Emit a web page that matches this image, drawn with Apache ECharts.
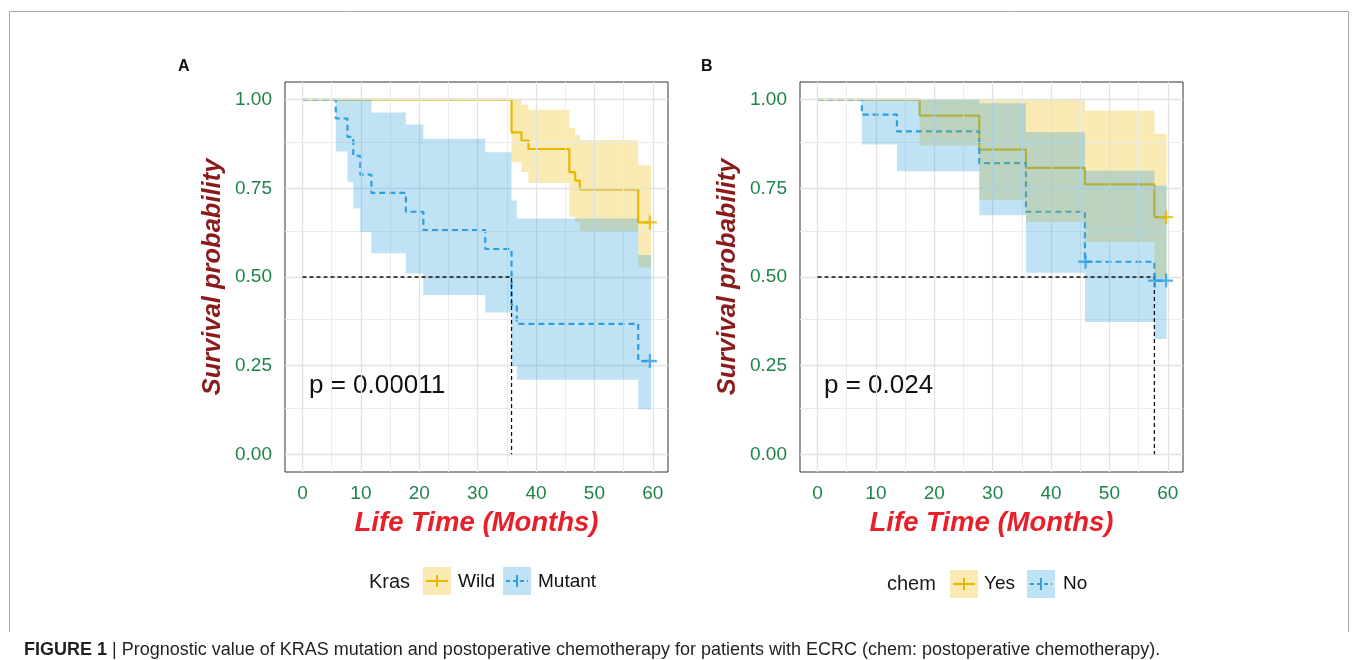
<!DOCTYPE html>
<html><head><meta charset="utf-8">
<script src="https://cdn.jsdelivr.net/npm/echarts@6/dist/echarts.min.js"></script>
<style>html,body{margin:0;padding:0;background:#fff}#c{width:1357px;height:660px}</style>
</head><body><div id="c"></div>
<script>
// ---------- axis ticks ----------
const xTicks = [0, 10, 20, 30, 40, 50, 60];
const xMinor = [5, 15, 25, 35, 45, 55];
const yTicks = [0, 0.25, 0.5, 0.75, 1];
const yMinor = [0.125, 0.375, 0.625, 0.875];

// ---------- Panel A : Kras ----------
const wildA = [[0,1],[35.8,0.908],[37.5,0.885],[38.7,0.861],[45.7,0.796],[46.7,0.772],[47.5,0.747],[57.5,0.654],[59.5,0.654]];
const mutantA = [[0,1],[5.7,0.947],[7.7,0.895],[8.7,0.842],[9.9,0.789],[11.8,0.737],[17.7,0.684],[20.7,0.632],[31.3,0.579],[35.8,0.421],[36.7,0.368],[57.5,0.263],[59.5,0.263]];
// [time, lower, upper]
const wildBandA = [[35.8,0.824,1.0],[37.5,0.796,0.986],[38.7,0.765,0.972],[45.7,0.67,0.92],[46.7,0.655,0.90],[47.5,0.627,0.886],[57.5,0.527,0.815],[59.7,0.527,0.815]];
const mutantBandA = [[5.7,0.854,1.0],[7.7,0.768,1.0],[8.7,0.693,1.0],[9.9,0.627,1.0],[11.8,0.567,0.964],[17.7,0.510,0.930],[20.7,0.449,0.89],[31.3,0.40,0.852],[35.8,0.248,0.716],[36.7,0.21,0.665],[57.5,0.126,0.562],[59.7,0.126,0.562]];
const wildCensorA = [[59.5,0.654]];
const mutantCensorA = [[59.5,0.263]];
const medianA = [[0,0.5],[35.8,0.5],[35.8,0]];
const pValueA = 'p = 0.00011';

// ---------- Panel B : chem ----------
const yesB = [[0,1],[17.5,0.955],[27.7,0.859],[35.7,0.808],[45.8,0.761],[57.7,0.669],[59.7,0.669]];
const noB = [[0,1],[7.6,0.958],[13.6,0.911],[27.7,0.821],[35.7,0.684],[45.8,0.543],[57.7,0.49],[59.7,0.49]];
const yesBandB = [[17.5,0.871,1.0],[27.7,0.718,1.0],[35.7,0.655,1.0],[45.8,0.599,0.969],[57.7,0.498,0.904],[59.8,0.498,0.904]];
const noBandB = [[7.6,0.874,1.0],[13.6,0.798,1.0],[27.7,0.674,0.99],[35.7,0.512,0.908],[45.8,0.373,0.80],[57.7,0.325,0.758],[59.8,0.325,0.758]];
const yesCensorB = [[59.7,0.669]];
const noCensorB = [[45.9,0.543],[57.8,0.49],[59.7,0.49]];
const medianB = [[0,0.5],[57.7,0.5],[57.7,0]];
const pValueB = 'p = 0.024';

const legendA = {title: 'Kras', items: ['Wild', 'Mutant']};
const legendB = {title: 'chem', items: ['Yes', 'No']};
const caption = 'Prognostic value of KRAS mutation and postoperative chemotherapy for patients with ECRC (chem: postoperative chemotherapy).';

// ---------- style ----------
const FONT = '"Liberation Sans", Arial, Helvetica, sans-serif';
const YEL = '#E7B800', BLU = '#2E9FDF';
const YEL_F = 'rgba(231,184,0,0.3)', BLU_F = 'rgba(46,159,223,0.3)';
const TICK_COL = '#1e8449';
const PLUS = 'path://M-1,-6H1V-1H6V1H1V6H-1V1H-6V-1H-1Z';

const chart = echarts.init(document.getElementById('c'), null, {renderer: 'canvas'});

const grids = [
  {left: 285, top: 82, width: 383, height: 390},
  {left: 800, top: 82, width: 383, height: 390}
].map(g => Object.assign(g, {show: true, borderColor: '#333', borderWidth: 1, backgroundColor: '#fff', containLabel: false}));

function xAxis(i) {
  return {type: 'value', gridIndex: i, min: -3, max: 62.6,
    splitLine: {show: false}, axisLine: {show: false},
    axisTick: {show: true, customValues: xTicks, length: 5, lineStyle: {color: '#333', width: 1}},
    axisLabel: {customValues: xTicks, color: TICK_COL, fontSize: 19, fontFamily: FONT, margin: 12},
    name: 'Life Time (Months)', nameLocation: 'middle', nameGap: 38,
    nameTextStyle: {color: '#E8202A', fontSize: 27.5, fontWeight: 'bold', fontStyle: 'italic', fontFamily: FONT}
  };
}
function yAxis(i) {
  return {type: 'value', gridIndex: i, min: -0.05, max: 1.05,
    splitLine: {show: false}, axisLine: {show: false},
    axisTick: {show: true, customValues: yTicks, length: 5, lineStyle: {color: '#333', width: 1}},
    axisLabel: {customValues: yTicks, color: TICK_COL, fontSize: 19, fontFamily: FONT, margin: 13,
      formatter: v => Number(v).toFixed(2)},
    name: 'Survival probability', nameLocation: 'middle', nameGap: 59,
    nameTextStyle: {color: '#8B1A1A', fontSize: 25.5, fontWeight: 'bold', fontStyle: 'italic', fontFamily: FONT}
  };
}

function gridLines(i) {
  const maj = {color: '#e2e2e2', width: 1.3, type: 'solid'};
  const min = {color: '#ececec', width: 1, type: 'solid'};
  const d = [];
  xMinor.forEach(v => d.push({xAxis: v, lineStyle: min}));
  yMinor.forEach(v => d.push({yAxis: v, lineStyle: min}));
  xTicks.forEach(v => d.push({xAxis: v, lineStyle: maj}));
  yTicks.forEach(v => d.push({yAxis: v, lineStyle: maj}));
  return {type: 'line', xAxisIndex: i, yAxisIndex: i, data: [[0, 0]], symbol: 'none', lineStyle: {opacity: 0}, z: 1, silent: true, animation: false,
    markLine: {silent: true, symbol: 'none', label: {show: false}, animation: false, data: d}};
}
function stepLine(i, data, color, dashed, z) {
  return {type: 'line', step: 'end', xAxisIndex: i, yAxisIndex: i, data, symbol: 'none', showSymbol: false, z, animation: false, silent: true,
    lineStyle: {color, width: 2.2, type: dashed ? [6, 4] : 'solid', cap: 'butt'}};
}
function medianLine(i, data) {
  return {type: 'line', xAxisIndex: i, yAxisIndex: i, data, symbol: 'none', z: 8, animation: false, silent: true,
    lineStyle: {color: '#111', width: 1.3, type: [4, 3]}};
}
function band(i, b, fill, z) {
  return {type: 'custom', xAxisIndex: i, yAxisIndex: i, z, silent: true, animation: false,
    data: [[b[0][0], b[0][1]]],
    renderItem: function (params, api) {
      const pts = [];
      for (let k = 0; k < b.length - 1; k++) {
        pts.push(api.coord([b[k][0], b[k][2]]));
        pts.push(api.coord([b[k + 1][0], b[k][2]]));
      }
      for (let k = b.length - 2; k >= 0; k--) {
        pts.push(api.coord([b[k + 1][0], b[k][1]]));
        pts.push(api.coord([b[k][0], b[k][1]]));
      }
      return {type: 'polygon', shape: {points: pts}, style: {fill}};
    }};
}
function censor(i, data, color) {
  return {type: 'scatter', xAxisIndex: i, yAxisIndex: i, data, symbol: PLUS, symbolSize: 14, z: 9, silent: true, animation: false,
    itemStyle: {color}};
}

function legendKey(x, y, fill, color, dashed) {
  return [
    {type: 'rect', shape: {x, y, width: 28, height: 28}, style: {fill}},
    {type: 'line', shape: {x1: x + 3, y1: y + 14, x2: x + 25, y2: y + 14},
      style: {stroke: color, lineWidth: 2, lineDash: dashed ? [4, 3] : null}},
    {type: 'line', shape: {x1: x + 14, y1: y + 8, x2: x + 14, y2: y + 20}, style: {stroke: color, lineWidth: 2}}
  ];
}
function txt(x, y, text, size, extra) {
  return {type: 'text', style: Object.assign({x, y, text, fontSize: size, fontFamily: FONT, fill: '#111', verticalAlign: 'middle', align: 'left'}, extra || {})};
}

const graphics = [
  {type: 'polyline', shape: {points: [[9.5, 632], [9.5, 11.5], [1348.5, 11.5], [1348.5, 632]]}, style: {stroke: '#a8a8a8', lineWidth: 1, fill: null}},
  txt(178, 67, 'A', 16, {fontWeight: 'bold'}),
  txt(701, 67, 'B', 16, {fontWeight: 'bold'}),
  txt(309, 386, pValueA, 26),
  txt(824, 386, pValueB, 26),
  // legend A
  txt(369, 582, legendA.title, 20, {fill: '#1a1a1a'}),
  ...legendKey(423, 567, YEL_F, YEL, false),
  txt(458, 582, legendA.items[0], 19),
  ...legendKey(503, 567, BLU_F, BLU, true),
  txt(538, 582, legendA.items[1], 19),
  // legend B
  txt(887, 584, legendB.title, 20, {fill: '#1a1a1a'}),
  ...legendKey(950, 570, YEL_F, YEL, false),
  txt(984, 584, legendB.items[0], 19),
  ...legendKey(1027, 570, BLU_F, BLU, true),
  txt(1063, 584, legendB.items[1], 19),
  // caption
  {type: 'text', style: {x: 24, y: 650, text: '{b|FIGURE 1} | ' + caption, fontSize: 18, fontFamily: FONT, fill: '#231f20', verticalAlign: 'middle',
    rich: {b: {fontWeight: 'bold', fontSize: 18, fontFamily: FONT, fill: '#231f20'}}}}
];

chart.setOption({
  animation: false,
  backgroundColor: '#fff',
  grid: grids,
  xAxis: [xAxis(0), xAxis(1)],
  yAxis: [yAxis(0), yAxis(1)],
  series: [
    gridLines(0), gridLines(1),
    stepLine(0, wildA, YEL, false, 2), stepLine(0, mutantA, BLU, true, 3),
    band(0, wildBandA, YEL_F, 4), band(0, mutantBandA, BLU_F, 5),
    medianLine(0, medianA),
    censor(0, wildCensorA, YEL), censor(0, mutantCensorA, BLU),
    stepLine(1, yesB, YEL, false, 2), stepLine(1, noB, BLU, true, 3),
    band(1, yesBandB, YEL_F, 4), band(1, noBandB, BLU_F, 5),
    medianLine(1, medianB),
    censor(1, yesCensorB, YEL), censor(1, noCensorB, BLU)
  ],
  graphic: graphics
});
</script></body></html>
